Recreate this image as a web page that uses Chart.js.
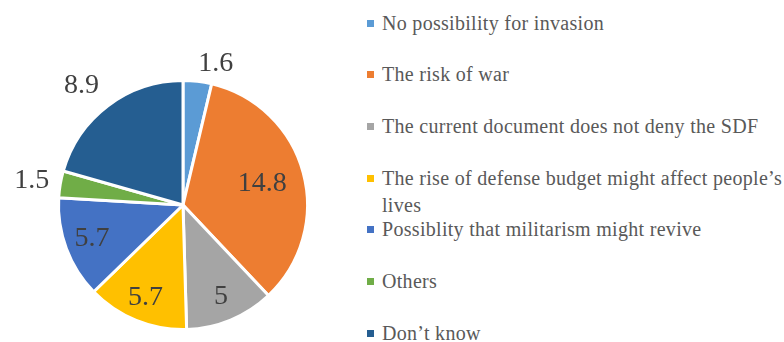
<!DOCTYPE html>
<html>
<head>
<meta charset="utf-8">
<script src="https://cdn.jsdelivr.net/npm/chart.js@4.4.1/dist/chart.umd.min.js"></script>
<style>
  html, body { margin: 0; padding: 0; background: #fff; }
  body { width: 784px; height: 342px; position: relative; overflow: hidden; }
  #pie-wrap { position: absolute; left: 0; top: 0; width: 366px; height: 342px; }
  #legend { position: absolute; left: 366px; top: 0; width: 418px; height: 342px;
            font-family: 'Liberation Serif', 'DejaVu Serif', serif; font-size: 20px;
            letter-spacing: 0.3px; color: #595959; }
  .item { position: absolute; left: 0; line-height: 27px; white-space: nowrap; }
  .swatch { position: absolute; left: 1px; top: 10px; width: 7px; height: 7px; }
  .text { margin-left: 16px; }
</style>
</head>
<body>
<div id="pie-wrap"><canvas id="chart"></canvas></div>
<div id="legend"></div>
<script>
// categories (multi-line label = array of lines)
const categories = [
    'No possibility for invasion',
    'The risk of war',
    'The current document does not deny the SDF',
    ['The rise of defense budget might affect people\u2019s', 'lives'],
    'Possiblity that militarism might revive',
    'Others',
    'Don\u2019t know'
];
const values = [1.6, 14.8, 5, 5.7, 5.7, 1.5, 8.9];
const colors = ['#5B9BD5', '#ED7D31', '#A5A5A5', '#FFC000', '#4472C4', '#70AD47', '#255E91'];

// where each value label sits: outside the pie or inside at a radius factor
const labelPlace = ['out', 'in', 'in', 'in', 'in', 'out', 'out'];
const labelRadius = [1.06, 0.66, 0.8, 0.8, 0.78, 1.09, 1.12];

const valueLabels = {
    id: 'valueLabels',
    afterDatasetsDraw(chart) {
        const ctx = chart.ctx;
        const meta = chart.getDatasetMeta(0);
        ctx.save();
        ctx.font = '28px "Liberation Serif", "DejaVu Serif", serif';
        ctx.fillStyle = '#404040';
        ctx.textBaseline = 'middle';
        meta.data.forEach((arc, i) => {
            const p = arc.getProps(['x', 'y', 'startAngle', 'endAngle', 'outerRadius'], true);
            const mid = (p.startAngle + p.endAngle) / 2;
            const cos = Math.cos(mid), sin = Math.sin(mid);
            const r = p.outerRadius * labelRadius[i];
            let x = p.x + cos * r;
            let y = p.y + sin * r;
            const txt = String(values[i]);
            if (labelPlace[i] === 'out') {
                ctx.textAlign = cos > 0 ? 'left' : 'right';
                y += sin * 10;
            } else {
                ctx.textAlign = 'center';
            }
            ctx.fillText(txt, x, y);
        });
        ctx.restore();
    }
};

new Chart(document.getElementById('chart'), {
    type: 'pie',
    data: {
        labels: categories,
        datasets: [{
            data: values,
            backgroundColor: colors,
            borderColor: '#ffffff',
            borderWidth: 3,
            hoverOffset: 0
        }]
    },
    options: {
        responsive: true,
        maintainAspectRatio: false,
        animation: false,
        layout: { padding: { top: 79, bottom: 11, left: 57, right: 57 } },
        plugins: {
            legend: { display: false },
            tooltip: { enabled: false }
        }
    },
    plugins: [valueLabels]
});

// legend built from the same arrays, evenly spaced slots
const legendEl = document.getElementById('legend');
const slot = 51.7;
categories.forEach((cat, i) => {
    const lines = Array.isArray(cat) ? cat : [cat];
    const item = document.createElement('div');
    item.className = 'item';
    item.style.top = (23 + i * slot - 13.5) + 'px';
    const sw = document.createElement('span');
    sw.className = 'swatch';
    sw.style.background = colors[i];
    const tx = document.createElement('div');
    tx.className = 'text';
    tx.innerHTML = lines.join('<br>');
    item.appendChild(sw);
    item.appendChild(tx);
    legendEl.appendChild(item);
});
</script>
</body>
</html>
